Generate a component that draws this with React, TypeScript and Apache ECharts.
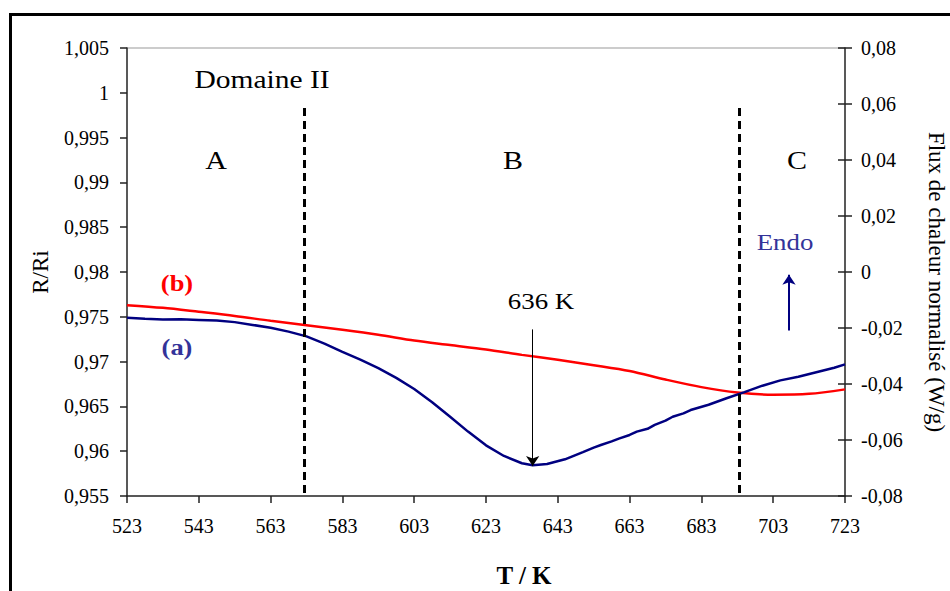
import React, { useEffect, useRef } from "react";
import * as echarts from "echarts";

const xTicks = [523, 543, 563, 583, 603, 623, 643, 663, 683, 703, 723];

// (b) R/Ri (left axis)
const redT = [523, 533, 543, 553, 563, 573, 583, 593, 603, 613, 623, 633, 643, 653, 663, 673, 683, 693, 703, 713, 723];
const redValues = [0.9763, 0.976, 0.97556, 0.9751, 0.97455, 0.97405, 0.97355, 0.973, 0.97235, 0.97185, 0.97135, 0.97075, 0.9702, 0.9696, 0.96895, 0.968, 0.96715, 0.96655, 0.9663, 0.9664, 0.9669];

// (a) heat flux (right axis)
const blueT = [523, 528, 533, 538, 543, 548, 553, 558, 563, 568, 573, 578, 583, 588, 593, 598, 603, 608, 613, 618, 623, 628, 633, 636, 640, 645, 650, 653, 655, 658, 660, 663, 665, 668, 670, 673, 675, 678, 680, 685, 690, 695, 700, 705, 710, 715, 720, 723];
const blueValues = [-0.0163, -0.0167, -0.017, -0.0169, -0.0171, -0.0173, -0.0179, -0.0189, -0.0199, -0.0213, -0.023, -0.0256, -0.0285, -0.0313, -0.0343, -0.0378, -0.0418, -0.0465, -0.0517, -0.057, -0.0619, -0.0657, -0.0683, -0.069, -0.0686, -0.0669, -0.0643, -0.0627, -0.0618, -0.0605, -0.0595, -0.0582, -0.057, -0.056, -0.0546, -0.0531, -0.0517, -0.0505, -0.0493, -0.0474, -0.0451, -0.0429, -0.0406, -0.0387, -0.0374, -0.0358, -0.0342, -0.033];

const domainBounds = [572.3, 693.5];
const peakT = 636;
const endoT = 707.4;

const serif = '"Liberation Serif", "Times New Roman", serif';

export default function App() {
  const ref = useRef<HTMLDivElement>(null);
  useEffect(() => {
    if (!ref.current) return;
    const chart = echarts.init(ref.current, null, { renderer: "svg" });
    const fmtL = (v: number) => String(parseFloat(v.toFixed(3))).replace(".", ",");
    const fmtR = (v: number) => String(parseFloat(v.toFixed(2))).replace(".", ",");
    const labelStyle = { color: "#000", fontFamily: serif, fontSize: 20 };
    const txt = (text: string, x: number, y: number, font: string, fill: string, sx = 1.15, rotation = 0) => ({
      type: "text",
      x,
      y,
      scaleX: sx,
      rotation,
      silent: true,
      style: { text, font, fill, align: "center", verticalAlign: "middle" },
    });
    chart.setOption({
      animation: false,
      backgroundColor: "#fff",
      grid: { left: 127, right: 105, top: 48, bottom: 95, containLabel: false },
      xAxis: {
        type: "value",
        min: 523,
        max: 723,
        splitLine: { show: false },
        axisLine: { show: true, onZero: false, lineStyle: { color: "#222", width: 1.5 } },
        axisTick: { show: true, length: 7, customValues: xTicks, lineStyle: { color: "#222", width: 1.5 } },
        axisLabel: { ...labelStyle, margin: 20, customValues: xTicks, formatter: (v: number) => String(v) },
      },
      yAxis: [
        {
          type: "value",
          min: 0.955,
          max: 1.005,
          interval: 0.005,
          position: "left",
          splitLine: { show: false },
          axisLine: { show: true, onZero: false, lineStyle: { color: "#222", width: 1.5 } },
          axisTick: { show: true, length: 7, lineStyle: { color: "#222", width: 1.5 } },
          axisLabel: { ...labelStyle, margin: 18, formatter: fmtL },
        },
        {
          type: "value",
          min: -0.08,
          max: 0.08,
          interval: 0.02,
          position: "right",
          splitLine: { show: false },
          axisLine: { show: true, onZero: false, lineStyle: { color: "#222", width: 1.5 } },
          axisTick: { show: true, length: 7, lineStyle: { color: "#222", width: 1.5 } },
          axisLabel: { ...labelStyle, margin: 16, formatter: fmtR },
        },
        {
          type: "value",
          min: -0.08,
          max: 0.08,
          interval: 0.02,
          position: "right",
          splitLine: { show: false },
          axisLine: { show: false },
          axisTick: { show: true, inside: true, length: 7, lineStyle: { color: "#222", width: 1.5 } },
          axisLabel: { show: false },
        },
      ],
      series: [
        {
          name: "(b)",
          type: "line",
          yAxisIndex: 0,
          showSymbol: false,
          smooth: 0.3,
          lineStyle: { color: "#ff0000", width: 2.5 },
          data: redT.map((t, i) => [t, redValues[i]]),
          markLine: {
            silent: true,
            symbol: ["none", "none"],
            label: { show: false },
            lineStyle: { color: "#000", width: 3, type: [8, 5] },
            data: domainBounds.map((b) => [{ coord: [b, 0.9983] }, { coord: [b, 0.955] }]),
          },
        },
        {
          name: "(a)",
          type: "line",
          yAxisIndex: 1,
          showSymbol: false,
          lineStyle: { color: "#000080", width: 2.5 },
          data: blueT.map((t, i) => [t, blueValues[i]]),
          markLine: {
            silent: true,
            symbol: ["none", "arrow"],
            symbolSize: 10,
            label: { show: false },
            data: [
              [
                { coord: [peakT, -0.0205], lineStyle: { color: "#000", width: 1, type: "solid" } },
                { coord: [peakT, -0.0693] },
              ],
              [
                { coord: [endoT, -0.0209], lineStyle: { color: "#000080", width: 2, type: "solid" } },
                { coord: [endoT, -0.001] },
              ],
            ],
          },
        },
      ],
      graphic: [
        { type: "rect", shape: { x: 10.5, y: 14.5, width: 1200, height: 1000 }, style: { fill: "none", stroke: "#000", lineWidth: 3 }, silent: true },
        { type: "line", shape: { x1: 127, y1: 48, x2: 845, y2: 48 }, style: { stroke: "#999", lineWidth: 1 }, silent: true },
        txt("Domaine II", 262, 80, `25px ${serif}`, "#000", 1.18),
        txt("A", 216, 160, `25px ${serif}`, "#000", 1.2),
        txt("B", 513, 160, `25px ${serif}`, "#000", 1.2),
        txt("C", 797, 160, `25px ${serif}`, "#000", 1.2),
        txt("(b)", 177, 283, `bold 23px ${serif}`, "#ff0000", 1.15),
        txt("(a)", 177, 347, `bold 23px ${serif}`, "#333399", 1.15),
        txt("636 K", 541, 301, `24px ${serif}`, "#000", 1.12),
        txt("Endo", 785, 242, `24px ${serif}`, "#333399", 1.12),
        txt("T / K", 524, 575, `bold 25px ${serif}`, "#000", 1.0),
        txt("R/Ri", 40, 272, `23px ${serif}`, "#000", 1.0, Math.PI / 2),
        txt("Flux de chaleur normalisé (W/g)", 936, 282, `23px ${serif}`, "#000", 1.0, -Math.PI / 2),
      ],
    });
    return () => chart.dispose();
  }, []);
  return <div ref={ref} style={{ position: "absolute", left: 0, top: 0, width: 950, height: 591 }} />;
}
